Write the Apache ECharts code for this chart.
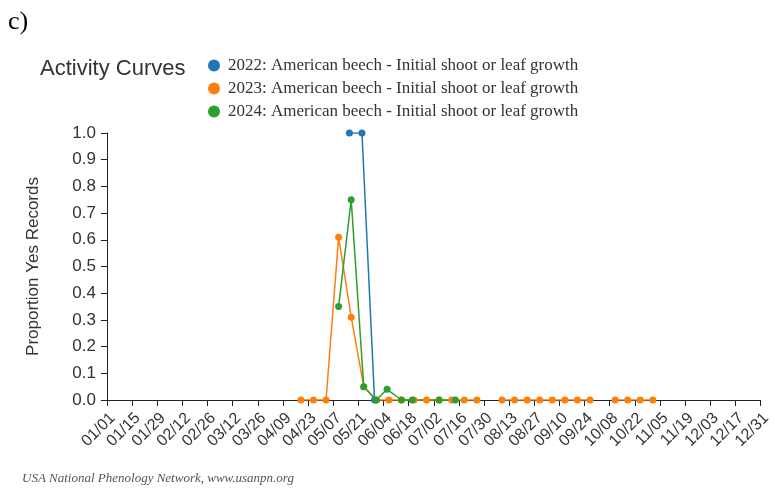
<!DOCTYPE html>
<html>
<head>
<meta charset="utf-8">
<script src="https://cdn.jsdelivr.net/npm/echarts@6/dist/echarts.min.js"></script>
<style>
  html, body { margin: 0; padding: 0; background: #fff; }
  #chart { width: 774px; height: 488px; }
</style>
</head>
<body>
<div id="chart"></div>
<script>
// x ticks every 14 days, labelled MM/DD (2022 calendar, day 0 = 01/01)
const seriesNames = [
  '2022: American beech - Initial shoot or leaf growth',
  '2023: American beech - Initial shoot or leaf growth',
  '2024: American beech - Initial shoot or leaf growth'
];
const colors = ['#1f77b4', '#ff7f0e', '#2ca02c'];

const dates2022 = ['05/16', '05/23', '05/30'];
const values2022 = [1, 1, 0];

const dates2023 = ['04/19', '04/26', '05/03', '05/10', '05/17', '05/24', '05/31', '06/07',
  '06/14', '06/21', '06/28', '07/05', '07/12', '07/19', '07/26', '08/02',
  '08/09', '08/16', '08/23', '08/30', '09/06', '09/13', '09/20', '09/27',
  '10/04', '10/11', '10/18', '10/25', '11/01'];
const values2023 = [0, 0, 0, 0.61, 0.31, 0.05, 0, 0,
  0, 0, 0, 0, 0, 0, 0, null,
  0, 0, 0, 0, 0, 0, 0, 0,
  null, 0, 0, 0, 0];

const dates2024 = ['05/10', '05/17', '05/24', '05/31', '06/06', '06/14', '06/20', '07/05', '07/14'];
const values2024 = [0.35, 0.75, 0.05, 0, 0.04, 0, 0, 0, 0];

const yTicks = [0, 0.1, 0.2, 0.3, 0.4, 0.5, 0.6, 0.7, 0.8, 0.9, 1.0];

const DAY = 86400000;
const start = Date.UTC(2022, 0, 1);
function dayOf(s) {
  const [m, d] = s.split('/').map(Number);
  return (Date.UTC(2022, m - 1, d) - start) / DAY;
}
function fmtDay(v) {
  const dt = new Date(start + v * DAY);
  const mm = String(dt.getUTCMonth() + 1).padStart(2, '0');
  const dd = String(dt.getUTCDate()).padStart(2, '0');
  return mm + '/' + dd;
}
function pairs(dates, vals) {
  return dates.map((d, i) => [dayOf(d), vals[i] === null ? '-' : vals[i]]);
}

const allData = [
  pairs(dates2022, values2022),
  pairs(dates2023, values2023),
  pairs(dates2024, values2024)
];

const chart = echarts.init(document.getElementById('chart'), null, { renderer: 'canvas' });

const option = {
  animation: false,
  backgroundColor: '#fff',
  color: colors,
  title: {
    text: 'Activity Curves',
    left: 40,
    top: 58,
    padding: 0,
    textStyle: { fontFamily: 'Liberation Sans', fontSize: 22, fontWeight: 'normal', color: '#333' }
  },
  legend: {
    orient: 'vertical',
    left: 208,
    top: 57,
    padding: 0,
    itemGap: 6,
    itemWidth: 12,
    itemHeight: 12,
    icon: 'circle',
    data: seriesNames,
    textStyle: { fontFamily: 'Liberation Serif', fontSize: 17, lineHeight: 16, color: '#333', padding: [0, 0, 0, 3] }
  },
  graphic: [
    {
      type: 'text', left: 8, top: 9,
      style: { text: 'c)', font: '26px "Liberation Serif"', fill: '#000' }
    },
    {
      type: 'text', left: 22, top: 472,
      style: { text: 'USA National Phenology Network, www.usanpn.org', font: 'italic 13px "Liberation Serif"', fill: '#555' }
    }
  ],
  grid: { left: 107, right: 12, top: 133, bottom: 88, containLabel: false },
  xAxis: {
    type: 'value',
    min: 0,
    max: 364,
    interval: 14,
    axisLine: { lineStyle: { color: '#222', width: 1 } },
    axisTick: { show: true, length: 6, lineStyle: { color: '#222' } },
    splitLine: { show: false },
    axisLabel: {
      rotate: 45,
      margin: 10,
      verticalAlign: 'top',
      color: '#333',
      fontFamily: 'Liberation Sans',
      fontSize: 16,
      formatter: fmtDay,
      showMaxLabel: true,
      showMinLabel: true
    }
  },
  yAxis: {
    type: 'value',
    min: 0,
    max: 1,
    interval: 0.1,
    name: 'Proportion Yes Records',
    nameLocation: 'middle',
    nameGap: 65,
    nameTextStyle: { fontFamily: 'Liberation Sans', fontSize: 17, color: '#333' },
    axisLine: { show: true, lineStyle: { color: '#222', width: 1 } },
    axisTick: { show: true, length: 6, lineStyle: { color: '#222' } },
    splitLine: { show: false },
    axisLabel: {
      color: '#333',
      fontFamily: 'Liberation Sans',
      fontSize: 17,
      margin: 11,
      formatter: v => yTicks.includes(Math.round(v * 10) / 10) ? v.toFixed(1) : ''
    }
  },
  series: seriesNames.map((name, i) => ({
    name: name,
    type: 'line',
    data: allData[i],
    symbol: 'circle',
    symbolSize: 7,
    showSymbol: true,
    connectNulls: false,
    lineStyle: { width: 1.5, color: colors[i] },
    itemStyle: { color: colors[i] }
  }))
};

chart.setOption(option);
</script>
</body>
</html>
